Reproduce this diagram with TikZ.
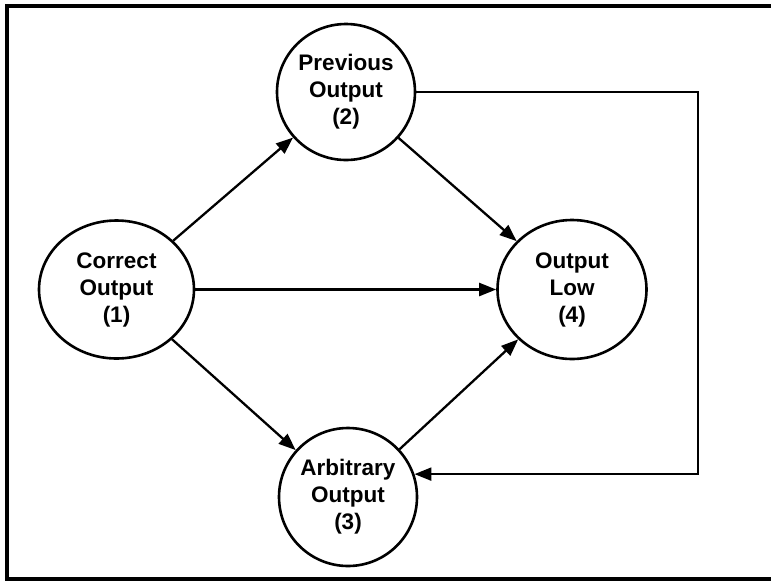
\documentclass[tikz,border=0pt]{standalone}
\usepackage{fontspec}
\setmainfont{Liberation Sans}
\usetikzlibrary{positioning, shapes.geometric, arrows.meta}
\tikzset{
->, % every connector is directed
>={Triangle[length=17pt,width=13pt]}, % filled heads like the original
on grid, % distances are measured centre to centre
every node/.style={font=\fontsize{22.5}{27}\selectfont\bfseries, align=center},
outcome/.style={draw, ellipse, line width=2.6pt, inner sep=0pt}, % the four outcome nodes
}

\begin{document}
\begin{tikzpicture}[x=1pt, y=1pt, line width=2.3pt]
  \useasboundingbox (0,0) rectangle (771,-582);
  % frame, cut off on the right
  \draw[-, line width=3.4pt] (771,-6) -- (7,-6) -- (7,-579) -- (771,-579);

  \node[outcome, minimum width=155pt, minimum height=138pt] (correct) at (116.5,-289.5) {Correct\\Output\\(1)};
  \node[outcome, minimum width=138pt, minimum height=136pt, above right=197.5pt and 229.5pt of correct] (previous) {Previous\\Output\\(2)};
  \node[outcome, minimum width=138pt, minimum height=138pt, below right=207.5pt and 231.5pt of correct] (arbitrary) {Arbitrary\\Output\\(3)};
  \node[outcome, minimum width=149pt, minimum height=139pt, right=455.5pt of correct] (low) {Output\\Low\\(4)};
  \coordinate (loop) at (698,-92);

  \draw (correct) -- (previous);
  \draw (correct) -- (low);
  \draw (correct) -- (arbitrary);
  \draw (previous) -- (low);
  \draw (arbitrary) -- (low);
  \draw (previous.east) -- (loop) |- (arbitrary.19.5);
\end{tikzpicture}
\end{document}
